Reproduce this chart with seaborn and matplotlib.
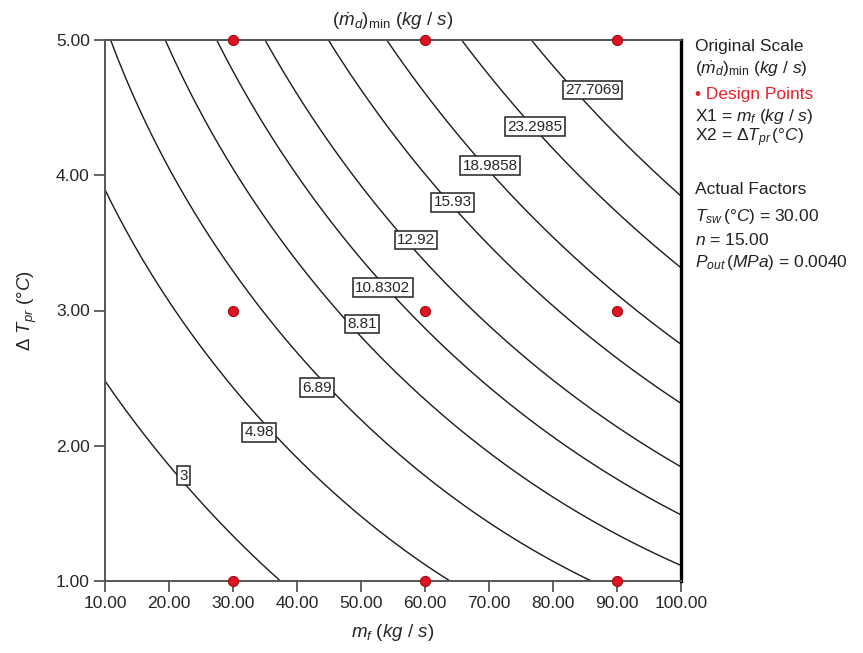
import numpy as np
import matplotlib
matplotlib.use("Agg")
import matplotlib.pyplot as plt
import seaborn as sns

# -----------------------------
# DATA
# -----------------------------
levels = [3, 4.98, 6.89, 8.81, 10.8302, 12.92, 15.93, 18.9858, 23.2985, 27.7069]
level_text = ["3", "4.98", "6.89", "8.81", "10.8302", "12.92", "15.93",
              "18.9858", "23.2985", "27.7069"]

# points (mf, dT)
trace_mf = [
    [10, 16.9, 22.3, 31.1, 37.5],
    [10, 14.3, 21.0, 28.5, 34.1, 49.5, 64.5],
    [10.8, 15.5, 26.8, 34.3, 43.1, 53.9, 85.5],
    [19.6, 24.5, 36.6, 47.5, 50.2, 56.2, 68.4, 100],
    [27.2, 33.1, 47.6, 53.4, 58.6, 68.4, 81.7, 100],
    [34.9, 41.2, 58.5, 69.0, 79.4, 95.0, 100],
    [44.9, 51.6, 64.3, 69.0, 81.1, 93.2, 100],
    [54.1, 61.4, 70.2, 79.9, 93.2, 100],
    [65.9, 74.2, 77.2, 92.1, 100],
    [76.7, 85.7, 100],
]
trace_dT = [
    [2.486, 2.0, 1.78, 1.353, 1.0],
    [3.98, 3.5, 3.0, 2.5, 2.10, 1.5, 1.0],
    [5.0, 4.5, 3.5, 3.0, 2.43, 2.0, 1.0],
    [5.0, 4.5, 3.5, 3.0, 2.90, 2.5, 2.0, 1.106],
    [5.0, 4.5, 3.5, 3.17, 3.0, 2.5, 2.0, 1.488],
    [5.0, 4.5, 3.5, 3.0, 2.5, 2.0, 1.852],
    [5.0, 4.5, 3.80, 3.5, 3.0, 2.5, 2.33],
    [5.0, 4.5, 4.07, 3.5, 3.0, 2.782],
    [5.0, 4.5, 4.36, 3.5, 3.342],
    [5.0, 4.5, 3.874],
]

# where the boxed labels sit
label_mf = [22.3, 34.1, 43.1, 50.2, 53.4, 58.6, 64.3, 70.2, 77.2, 86.2]
label_dT = [1.78, 2.10, 2.43, 2.90, 3.17, 3.52, 3.80, 4.07, 4.36, 4.63]

# design points
design_mf = [30, 60, 90, 30, 60, 90, 30, 60, 90]
design_dT = [5, 5, 5, 3, 3, 3, 1, 1, 1]

x_ticks = [10, 20, 30, 40, 50, 60, 70, 80, 90, 100]
y_ticks = [1, 2, 3, 4, 5]

# -----------------------------
# SURFACE (cubic fit through the traced contours)
# -----------------------------
def basis(u, v):
    return np.stack([np.ones_like(u), u, v, u * u, u * v, v * v,
                     u ** 3, u * u * v, u * v * v, v ** 3], axis=-1)

px, py, pz = [], [], []
for lvl, xs, ys in zip(levels, trace_mf, trace_dT):
    px += xs
    py += ys
    pz += [lvl] * len(xs)
px, py, pz = np.array(px, float), np.array(py, float), np.array(pz, float)
coef, *_ = np.linalg.lstsq(basis((px - 55) / 45, (py - 3) / 2), pz, rcond=None)

MF, DT = np.meshgrid(np.linspace(10, 100, 400), np.linspace(1, 5, 400))
ZZ = basis((MF - 55) / 45, (DT - 3) / 2) @ coef

# -----------------------------
# PLOT
# -----------------------------
sns.set_theme(style="ticks")
plt.rcParams["font.family"] = ["Liberation Sans", "DejaVu Sans"]
plt.rcParams["mathtext.fontset"] = "custom"
plt.rcParams["mathtext.rm"] = "Liberation Sans"
plt.rcParams["mathtext.it"] = "Liberation Sans:italic"
plt.rcParams["mathtext.bf"] = "Liberation Sans:bold"

W, H = 863, 653
fig = plt.figure(figsize=(W / 100, H / 100), dpi=100)
ax = fig.add_axes([105 / W, 1 - 581 / H, 576 / W, 541 / H])

ax.contour(MF, DT, ZZ, levels=levels, colors="#1a1a1a", linewidths=1.0)

for t, lx, ly in zip(level_text, label_mf, label_dT):
    ax.text(lx, ly, t, ha="center", va="center", fontsize=11, zorder=4,
            bbox=dict(boxstyle="square,pad=0.15", fc="white", ec="#222222", lw=1.1))

sns.scatterplot(x=design_mf, y=design_dT, ax=ax, color="#e0141e",
                edgecolor="#8a0000", linewidth=0.6, s=55, zorder=6,
                clip_on=False, legend=False)

ax.set_xlim(10, 100)
ax.set_ylim(1, 5)
ax.set_xticks(x_ticks)
ax.set_xticklabels([f"{v:.2f}" for v in x_ticks])
ax.set_yticks(y_ticks)
ax.set_yticklabels([f"{v:.2f}" for v in y_ticks])
ax.tick_params(direction="out", length=8, width=1.3, color="#555555",
               labelsize=12.5, pad=3)

for side in ["left", "bottom", "top"]:
    ax.spines[side].set_color("#555555")
    ax.spines[side].set_linewidth(1.4)
ax.spines["right"].set_color("black")
ax.spines["right"].set_linewidth(2.4)

ax.set_xlabel(r"$m_f\ (kg\ /\ s)$", fontsize=13.5, labelpad=8)
ax.set_ylabel(r"$\Delta\ T_{pr}\ (°C)$", fontsize=13.5, labelpad=12)
ax.set_title(r"$(\dot{m}_d)_{\rm min}\ (kg\ /\ s)$", fontsize=13.5, pad=10)

# side notes
notes = [
    ("Original Scale", 47, "#222222"),
    (r"$(\dot{m}_d)_{\rm min}\ (kg\ /\ s)$", 69, "#222222"),
    ("\u2022 Design Points", 95, "#e8202a"),
    (r"X1 = $m_f\ (kg\ /\ s)$", 117, "#222222"),
    (r"X2 = $\Delta T_{pr}\,(°C)$", 138, "#222222"),
    ("Actual Factors", 190, "#222222"),
    (r"$T_{sw}\,(°C)$ = 30.00", 216, "#222222"),
    (r"$n$ = 15.00", 240, "#222222"),
    (r"$P_{out}\,(MPa)$ = 0.0040", 263, "#222222"),
]
for txt, yp, col in notes:
    fig.text(695 / W, 1 - yp / H, txt, fontsize=12.5, color=col, va="center", ha="left")

fig.savefig("out.png", dpi=100)
